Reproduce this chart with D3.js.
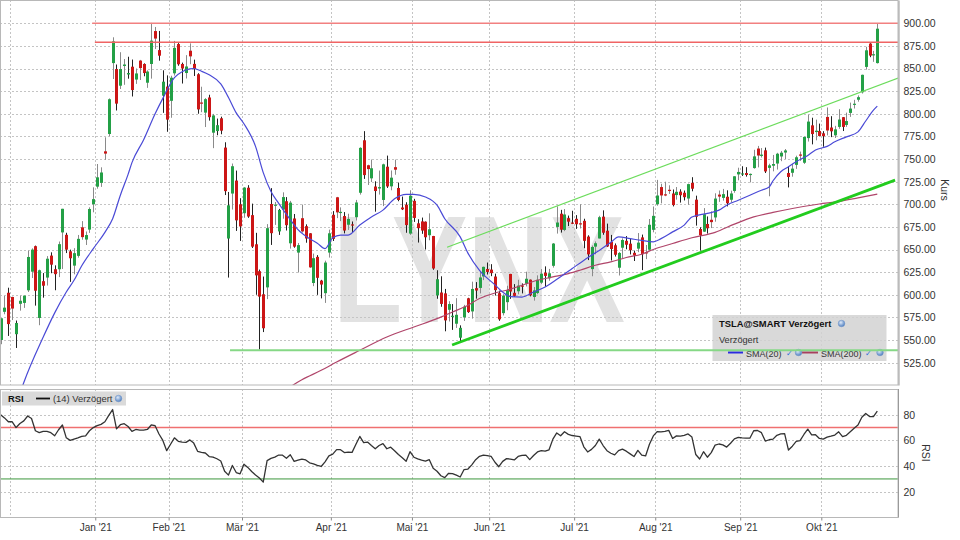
<!DOCTYPE html>
<html><head><meta charset="utf-8">
<script src="https://cdn.jsdelivr.net/npm/d3@7"></script>
<style>
html,body{margin:0;padding:0;background:#fff;}
svg{display:block;font-family:"Liberation Sans",Arial,sans-serif;}
</style></head><body>
<svg id="chart" width="960" height="540"></svg>
<script>
// ---------- DATA ----------
const holidays = ["2020-11-26","2020-12-25","2021-01-01","2021-01-18","2021-02-15","2021-04-02","2021-05-31","2021-07-05","2021-09-06"];
const monthNames = ["Jan","Feb","Mär","Apr","Mai","Jun","Jul","Aug","Sep","Okt","Nov","Dez"];

const open = [
 550.06,581.16,602.21,597.59,556.44,590.02,591.01,604.92,625.51,653.69,574.37,615.01,619.00,643.28,628.23,628.19,668.90,666.24,648.00,632.20,642.99,674.51,661.00,672.00,699.99,
 719.46,723.66,758.49,777.63,856.00,849.40,831.00,852.76,843.39,852.00,837.80,858.74,855.00,834.31,855.00,891.38,870.35,820.00,830.00,
 814.29,844.68,877.02,855.00,845.00,869.67,855.12,843.64,812.44,801.26,818.00,779.09,780.90,795.00,762.64,662.13,711.85,726.15,700.00,
 690.11,718.28,687.99,655.80,626.06,600.55,608.18,700.30,699.40,670.00,694.09,703.35,656.87,684.29,646.60,684.59,675.77,667.91,613.00,641.87,615.64,601.75,646.62,
 688.37,707.71,690.30,687.00,677.38,677.77,685.70,712.70,770.70,743.10,728.65,719.60,717.42,704.77,741.50,719.80,741.00,717.96,696.41,699.51,667.59,
 703.80,678.94,681.06,680.76,665.80,664.90,599.24,602.49,601.54,583.41,575.55,568.00,552.55,575.00,596.11,581.60,607.31,607.56,620.24,628.50,
 627.80,620.13,601.80,579.71,591.83,623.01,602.17,603.88,610.23,612.23,616.69,597.54,601.89,613.37,624.48,618.25,632.00,674.99,689.58,671.64,684.65,679.77,
 683.92,678.98,681.71,664.27,628.37,653.18,662.20,686.32,670.75,658.39,654.68,629.89,651.99,659.61,656.44,646.36,650.97,663.40,647.00,649.79,671.76,
 700.00,719.00,711.00,716.00,711.90,710.17,713.99,712.71,706.34,723.71,705.07,672.66,669.75,678.21,682.85,685.44,710.68,707.03,708.31,705.00,714.72,733.00,
 734.08,734.50,732.25,740.00,761.58,753.41,759.60,740.21,742.57,745.00,752.83,757.15,734.56,734.79,743.53,755.00,745.89,773.12,787.20,779.80,781.00,
 778.40,796.50,784.80,776.20,785.46,796.21,787.65,800.93,810.47,815.49,823.74,851.77,877.53,865.35,856.00];
const high = [
 574.00,598.78,607.80,597.85,571.54,598.97,599.04,648.79,651.28,654.32,627.75,624.00,642.75,646.90,632.50,658.82,695.00,668.50,649.88,651.50,666.09,681.40,669.90,696.60,718.72,
 744.49,740.84,774.00,816.99,884.49,854.43,868.00,860.47,863.00,859.90,850.00,859.50,855.72,848.00,900.40,895.90,891.50,848.00,842.41,
 842.00,880.50,878.08,856.50,864.77,877.77,859.80,844.82,829.88,817.33,821.00,799.84,794.69,796.79,768.50,713.61,745.00,737.21,706.70,
 719.00,721.11,700.70,668.45,627.84,620.13,678.09,717.85,702.50,694.88,713.18,707.92,703.73,689.23,657.23,699.62,677.80,668.02,645.50,643.82,616.48,637.66,672.00,
 692.42,708.16,696.55,691.38,689.55,680.97,704.80,763.00,780.79,743.69,749.41,725.40,737.25,744.84,753.77,737.36,749.30,724.00,708.50,702.25,715.47,
 706.00,683.45,685.30,681.02,690.00,665.05,627.10,620.41,606.46,592.87,589.73,596.25,566.21,588.85,596.68,614.48,613.99,626.17,631.13,635.59,
 633.80,623.36,604.55,600.61,610.00,623.09,611.79,616.59,612.56,625.49,616.79,608.50,621.47,628.35,631.39,628.57,657.20,697.62,693.81,694.70,687.51,692.81,
 687.99,700.00,684.00,665.70,654.43,658.91,687.24,693.28,678.61,666.14,656.70,647.20,662.39,664.86,662.17,648.80,668.20,666.50,654.97,683.69,697.53,
 726.94,722.65,724.90,720.95,716.33,719.03,716.59,715.18,722.80,729.90,709.50,674.58,695.77,686.55,692.13,712.13,715.22,716.97,715.40,715.00,731.00,740.39,
 741.99,740.97,734.00,760.20,764.45,762.10,762.61,744.78,754.47,756.86,758.91,761.04,742.00,744.74,753.67,758.20,774.80,799.00,795.64,793.50,789.13,
 780.78,806.97,797.31,786.66,805.00,796.38,801.24,812.32,815.41,820.25,843.21,873.95,877.95,869.49,900.00];
const low = [
 545.37,578.45,554.51,572.05,541.21,582.43,585.50,603.05,618.50,588.00,566.34,596.80,610.20,623.80,605.00,619.50,628.54,646.07,614.23,622.57,641.00,660.80,655.00,668.36,691.12,
 717.19,719.20,749.10,775.20,838.39,803.62,827.34,832.00,838.75,819.10,833.00,837.28,841.42,828.62,838.82,871.60,858.66,801.00,780.10,
 795.56,842.20,853.06,833.42,838.97,854.75,841.75,800.02,801.73,785.33,792.44,762.01,776.27,777.37,710.20,619.00,694.17,670.58,659.51,
 685.05,685.00,651.71,600.00,539.49,558.79,595.21,655.06,677.18,666.14,684.04,671.00,651.01,652.00,624.62,668.75,657.51,630.11,609.50,599.89,596.02,591.01,641.11,
 659.42,684.70,681.37,667.84,671.65,669.43,682.09,710.66,728.03,721.31,724.60,691.80,710.69,698.00,718.04,715.46,732.61,703.35,693.60,668.50,666.14,
 680.50,657.70,667.34,650.00,660.22,627.61,595.60,586.77,559.65,570.46,561.20,563.38,546.98,571.07,580.00,573.65,595.71,601.50,616.21,622.38,
 620.55,599.14,571.22,577.20,582.88,595.50,597.63,600.50,601.52,609.18,598.23,593.50,600.61,611.80,608.88,615.50,630.04,667.61,668.70,670.32,675.89,678.14,
 672.80,673.26,651.40,638.32,620.46,644.69,662.16,666.30,652.84,637.88,642.20,621.29,640.50,650.29,644.60,637.30,647.11,627.24,639.40,648.80,669.00,
 698.40,701.01,708.93,711.41,697.63,705.13,701.88,704.21,699.40,714.34,676.40,648.84,669.35,667.59,673.70,680.75,702.64,704.00,697.62,702.10,712.73,726.44,
 731.27,730.54,724.20,739.26,740.77,751.63,734.52,708.85,736.40,738.36,747.61,750.00,718.62,730.44,739.12,747.92,744.56,769.31,766.18,770.68,775.00,
 763.59,776.12,774.20,773.22,783.38,780.91,785.50,796.57,805.78,813.35,822.35,848.80,862.51,857.38,855.50];
const close = [
 574.00,585.76,567.60,584.76,568.82,593.38,599.04,641.76,649.88,604.48,627.07,609.99,639.83,633.25,622.77,655.90,695.00,649.86,640.34,645.98,661.77,663.69,665.99,694.78,705.67,
 729.77,735.11,755.98,816.04,880.02,811.19,849.44,854.41,845.00,826.16,844.55,850.45,844.99,846.64,880.80,883.09,864.16,835.43,793.53,
 839.81,872.79,854.69,849.99,852.23,863.42,849.46,804.82,811.66,816.12,796.22,798.15,787.38,781.30,714.50,698.84,742.02,682.22,675.50,
 718.43,686.44,653.20,621.44,597.95,563.00,673.58,668.06,699.60,693.73,707.94,676.88,701.81,653.16,654.87,670.00,662.16,630.27,640.39,618.71,611.29,635.62,667.93,
 661.75,691.05,691.62,670.97,683.80,677.02,701.98,762.32,732.23,738.85,739.78,714.63,718.99,744.12,719.69,729.40,738.20,704.74,694.40,677.00,709.44,
 684.90,673.60,670.94,663.54,672.37,629.04,617.20,589.89,571.69,589.74,576.83,577.87,563.46,586.78,580.88,606.44,604.69,619.13,630.85,625.22,
 623.90,605.12,572.84,599.05,605.13,603.59,598.78,610.12,609.89,617.69,599.36,604.87,616.60,623.31,620.83,623.71,656.57,679.82,671.87,688.72,680.76,679.70,
 677.92,678.90,659.58,644.65,652.81,656.95,685.70,668.54,653.38,650.60,644.22,646.22,660.50,655.29,649.26,643.38,657.62,644.78,646.98,677.35,687.20,
 709.67,709.74,710.92,714.63,699.10,713.76,709.99,707.82,722.25,717.17,686.17,665.71,688.99,673.47,680.26,706.30,708.49,711.20,701.16,711.92,730.91,735.72,
 734.09,732.39,733.57,752.92,753.87,754.86,736.27,743.00,744.49,755.83,756.99,759.49,730.17,739.38,751.94,753.64,774.39,791.36,777.56,781.31,775.48,
 775.22,781.53,780.59,782.75,793.61,785.49,791.94,805.72,811.08,818.32,843.03,870.11,864.27,865.80,894.00];

// RSI(14), one value per trading day
const rsi = [
 80,77.5,74.5,74.5,70,73.2,75.2,79,77,67.5,66,67,67,66,63.6,68.3,72,62,60,61,62,63.2,63.6,67.5,70,
 71.5,72.5,74.5,79.5,84,69,72.2,73,70.8,67,68.5,68,68,68.5,72,71.4,65,60,52,
 57,62,59.3,58.7,58.5,60.4,57.9,51.5,50.7,50.2,47.4,47,45.7,44,36,33,40.5,35,34,
 41.5,39,35.8,33,30.7,27.5,44.3,46,47,48.6,48.5,46.1,48.8,43.7,44.7,45.5,44.8,42.6,41.8,40.5,39.7,43.3,48,
 49.3,52.8,52.8,50.5,50.9,50.7,57,63.1,58.3,58.7,56,53.5,56,57.5,53.5,54.7,52,49,46.5,43.8,51.2,
 46.9,45.6,44.6,43.8,45,38.3,36,32.5,31,34.4,34.2,33,31.5,37.3,37.7,41,45,47.6,48.6,48.2,
 47.5,43,39.5,43.7,45.8,45.5,44.8,47.5,48.3,48.5,45,48.2,51,52.1,51.6,52.7,61,65.8,63.6,66.7,64.7,63.8,
 63.4,63,55,51,53,56,61,56,52,50,48.7,52,53.2,51.6,49.5,47.4,52.2,48.5,47.9,57,63.5,
 66.8,66.6,67,67.8,61.5,63.5,63.3,64,65,62.6,49,45.5,51.2,46.9,50.5,56.3,57.2,56.5,54.8,57.8,61.2,62.4,
 62,61.7,61.7,67.5,67.7,66,59.5,60.5,61,64,65,65.2,52.5,55.5,59.2,59.9,64.6,68.8,64.3,64.4,61.5,
 61,62.5,63.3,64.2,66.7,63,64,66.7,69.5,72,78,81,78.6,78.5,82.7];

// moving averages: [trading day, value]
const sma20 = [[4,478],[6,503],[11,553],[14,580],[17,603],[19,616],[21,632],[24,651],[27,669],[29,684],[31,710],[33,733],[34,746],[37,771],[40,800],[42,817],[45,840],[47,846.5],[49,849.5],[50,850],[52,847],[54,843],[57,833],[59,818],[61,801],[63,789],[66,764],[68,735],[70,714],[72,701],[75,683],[77,672],[80,662],[82,657],[84,651],[86,663],[88,666],[90,666],[93,677],[96,686],[99,693.5],[102,706],[105,711],[107,711],[110,708],[113,699],[115,684],[119,664],[121,646],[124,627],[128,611],[130,603],[132,598],[135,597.5],[138,603],[141,608.5],[145,620],[148,629],[152,641],[155,649],[158,658],[160,664],[163,662],[166,660],[169,658.5],[171,662],[174,669.5],[177,677],[179,686],[183,690],[186,693.5],[188,699],[191,704.5],[194,710],[197,715.5],[199,719],[200,726],[202,736],[204,741.5],[206,747],[209,754],[211,760],[214,764],[216,769],[219,774.5],[222,780],[224,792],[226,804],[227,808.5]];
const sma200 = [[72,490],[78,506],[83,516.5],[87,525.7],[93,538.6],[100,553.3],[107,564.4],[113,573.6],[117,581],[121,588.4],[124,595.8],[128,602],[131,605],[135,610.5],[139,616],[143,619.7],[147,623.4],[150,627.1],[154,632.6],[158,636.3],[162,641.2],[166,644.8],[169,650],[174,656.6],[179,663],[185,669],[190,678],[195,686],[200,691],[205,695.3],[212,700.3],[217,703],[222,707],[227,711.2]];

// drawn trend / support / resistance lines: [trading day, price]
const resistanceHigh = [[23.7,900],[232.4,900]];
const resistanceLow  = [[24.4,879],[232.4,879]];
const supportLine    = [[59.4,538.6],[232.4,538.6]];
const channelUpper   = [[115.6,652.5],[232.4,839.5]];
const channelLower   = [[116.9,544.5],[231.6,726.7]];

const priceTicks = [525,550,575,600,625,650,675,700,725,750,775,800,825,850,875,900];
const rsiTicks = [20,40,60,80];

// ---------- LAYOUT ----------
const W = 960, H = 540;
const plotRight = 898;
const mainTop = 0, mainBottom = 385;
const rsiTop = 389, rsiBottom = 517.5;

// trading calendar
const dates = [];
for (let t = Date.UTC(2020,10,25); t <= Date.UTC(2021,9,21); t += 864e5) {
  const d = new Date(t), wd = d.getUTCDay(), s = d.toISOString().slice(0,10);
  if (wd === 0 || wd === 6 || holidays.includes(s)) continue;
  dates.push(s);
}
const candles = dates.map((d,i)=>({d, i, o:open[i], h:high[i], l:low[i], c:close[i], pc: i>0?close[i-1]:open[i]}));

const monthTicks = [];
dates.forEach((s,i)=>{
  if (i>0 && s.slice(5,7)!==dates[i-1].slice(5,7))
    monthTicks.push({pos:i-0.5, label: monthNames[+s.slice(5,7)-1]+" '"+s.slice(2,4)});
});

const x = d3.scaleLinear().domain([-0.165, 232.36]).range([0, plotRight]);
const y = d3.scaleLinear().domain([500.3, 925.7]).range([mainBottom, mainTop]);
const yr = d3.scaleLinear().domain([0,100]).range([rsiBottom, rsiTop]);
const labeledTicks = monthTicks.filter(d=>x(d.pos) > 20);

const svg = d3.select("#chart");
svg.append("rect").attr("width",W).attr("height",H).attr("fill","#fff");

const defs = svg.append("defs");
defs.append("clipPath").attr("id","clipMain").append("rect")
  .attr("x",0).attr("y",mainTop).attr("width",plotRight).attr("height",mainBottom-mainTop);
defs.append("clipPath").attr("id","clipRsi").append("rect")
  .attr("x",0).attr("y",rsiTop).attr("width",plotRight).attr("height",rsiBottom-rsiTop);
const grad = defs.append("radialGradient").attr("id","globe").attr("cx","40%").attr("cy","35%").attr("r","65%");
grad.append("stop").attr("offset","0%").attr("stop-color","#dfeaf8");
grad.append("stop").attr("offset","100%").attr("stop-color","#4f7fc0");

const main = svg.append("g").attr("clip-path","url(#clipMain)");
const rsiG = svg.append("g").attr("clip-path","url(#clipRsi)");

// watermark
main.append("text").text("LYNX")
  .attr("x",333).attr("y",322)
  .attr("font-size",152).attr("font-weight","bold")
  .attr("textLength",292).attr("lengthAdjust","spacingAndGlyphs")
  .attr("fill","#e2e2e2");

// grid
const gridCol = "#c4c4c4";
main.selectAll("line.hg").data(priceTicks).join("line")
  .attr("x1",0).attr("x2",plotRight)
  .attr("y1",d=>Math.round(y(d))+0.5).attr("y2",d=>Math.round(y(d))+0.5)
  .attr("stroke",gridCol).attr("stroke-dasharray","2,2");
main.selectAll("line.vg").data(monthTicks).join("line")
  .attr("x1",d=>Math.round(x(d.pos))+0.5).attr("x2",d=>Math.round(x(d.pos))+0.5)
  .attr("y1",mainTop).attr("y2",mainBottom)
  .attr("stroke",gridCol).attr("stroke-dasharray","2,2");
rsiG.selectAll("line.hg").data(rsiTicks).join("line")
  .attr("x1",0).attr("x2",plotRight)
  .attr("y1",d=>Math.round(yr(d))+0.5).attr("y2",d=>Math.round(yr(d))+0.5)
  .attr("stroke",gridCol).attr("stroke-dasharray","2,2");
rsiG.selectAll("line.vg").data(monthTicks).join("line")
  .attr("x1",d=>Math.round(x(d.pos))+0.5).attr("x2",d=>Math.round(x(d.pos))+0.5)
  .attr("y1",rsiTop).attr("y2",rsiBottom)
  .attr("stroke",gridCol).attr("stroke-dasharray","2,2");

// candles
const cg = main.append("g");
cg.selectAll("line.w").data(candles).join("line")
  .attr("x1",d=>Math.round(x(d.i))+0.5).attr("x2",d=>Math.round(x(d.i))+0.5)
  .attr("y1",d=>y(d.h)).attr("y2",d=>y(d.l))
  .attr("stroke",d=>d.c>=d.pc?"#8a8a8a":"#222").attr("stroke-width",1);
cg.selectAll("rect.b").data(candles).join("rect")
  .attr("x",d=>Math.round(x(d.i))-1).attr("width",3)
  .attr("y",d=>y(Math.max(d.o,d.c)))
  .attr("height",d=>Math.max(1.2, Math.abs(y(d.o)-y(d.c))))
  .attr("fill",d=>d.c>=d.o?"#23a046":"#cc1616");

// moving averages
const lineXY = d3.line().x(d=>x(d[0])).y(d=>y(d[1])).curve(d3.curveMonotoneX);
main.append("path").attr("d",lineXY(sma200)).attr("fill","none").attr("stroke","#b0456a").attr("stroke-width",1.2);
main.append("path").attr("d",lineXY(sma20)).attr("fill","none").attr("stroke","#4a4ad6").attr("stroke-width",1.2);

// trend lines
const straight = d3.line().x(d=>x(d[0])).y(d=>y(d[1]));
main.append("path").attr("d",straight(channelUpper)).attr("stroke","#6cdc5c").attr("stroke-width",1.3).attr("fill","none");
main.append("path").attr("d",straight(channelLower)).attr("stroke","#22cc1e").attr("stroke-width",2.8).attr("fill","none");

// legend box (main)
const lg = svg.append("g");
lg.append("rect").attr("x",712.5).attr("y",315).attr("width",174).attr("height",46)
  .attr("fill","#d2d2d2").attr("opacity",0.85);
lg.append("text").attr("x",719).attr("y",327).attr("font-size",9.4).attr("font-weight","bold").attr("fill","#111").text("TSLA@SMART Verzögert");
lg.append("text").attr("x",719).attr("y",343).attr("font-size",9.2).attr("fill","#333").text("Verzögert");
lg.append("line").attr("x1",728).attr("x2",743).attr("y1",352.5).attr("y2",352.5).attr("stroke","#2b2be0").attr("stroke-width",2);
lg.append("text").attr("x",746).attr("y",356.5).attr("font-size",9).attr("fill","#333").text("SMA(20)");
lg.append("line").attr("x1",802).attr("x2",818).attr("y1",352.5).attr("y2",352.5).attr("stroke","#a8405e").attr("stroke-width",2);
lg.append("text").attr("x",821).attr("y",356.5).attr("font-size",9).attr("fill","#333").text("SMA(200)");
[[789,356],[868,356]].forEach(p=>lg.append("text").attr("x",p[0]).attr("y",p[1]).attr("font-size",7.5).attr("text-anchor","middle").attr("fill","#2f6fd8").text("✓"));
[[841.5,323.5],[798.5,352.5],[880,352.5]].forEach(p=>lg.append("circle").attr("cx",p[0]).attr("cy",p[1]).attr("r",3.3).attr("fill","url(#globe)").attr("stroke","#6f93c8").attr("stroke-width",0.5));

// horizontal support / resistance (drawn over legend)
const hl = svg.append("g").attr("clip-path","url(#clipMain)");
hl.append("path").attr("d",straight(supportLine)).attr("stroke","#86d886").attr("stroke-width",2).attr("fill","none");
hl.append("path").attr("d",straight(resistanceHigh)).attr("stroke","#f28080").attr("stroke-width",1.6).attr("fill","none");
hl.append("path").attr("d",straight(resistanceLow)).attr("stroke","#f06464").attr("stroke-width",1.6).attr("fill","none");

// RSI panel
rsiG.append("line").attr("x1",0).attr("x2",plotRight).attr("y1",yr(70)).attr("y2",yr(70)).attr("stroke","#f07070").attr("stroke-width",1.5);
rsiG.append("line").attr("x1",0).attr("x2",plotRight).attr("y1",yr(30)).attr("y2",yr(30)).attr("stroke","#3c963c").attr("stroke-width",1);
rsiG.append("path").attr("d",d3.line().x((d,i)=>x(i)).y(d=>yr(d))(rsi))
  .attr("fill","none").attr("stroke","#333").attr("stroke-width",1.3).attr("stroke-linejoin","round");

// RSI legend
const rl = svg.append("g");
rl.append("rect").attr("x",2).attr("y",391.5).attr("width",124).attr("height",14).attr("fill","#dadada");
rl.append("text").attr("x",8).attr("y",402).attr("font-size",9.4).attr("font-weight","bold").attr("fill","#111").text("RSI");
rl.append("line").attr("x1",36).attr("x2",50).attr("y1",398.5).attr("y2",398.5).attr("stroke","#111").attr("stroke-width",1.8);
rl.append("text").attr("x",53).attr("y",402).attr("font-size",9.4).attr("fill","#333").text("(14) Verzögert");
rl.append("circle").attr("cx",118.5).attr("cy",398.5).attr("r",3.3).attr("fill","url(#globe)").attr("stroke","#6f93c8").attr("stroke-width",0.5);

// panel frames
const frame = "#b8b8b8";
svg.append("rect").attr("x",0.5).attr("y",0.5).attr("width",plotRight-0.5).attr("height",mainBottom-0.5).attr("fill","none").attr("stroke",frame);
svg.append("rect").attr("x",0.5).attr("y",rsiTop+0.5).attr("width",plotRight-0.5).attr("height",rsiBottom-rsiTop-0.5).attr("fill","none").attr("stroke",frame);

// axes
function styleAxis(g){
  g.selectAll("text").attr("fill","#333").attr("font-family","'Liberation Sans',Arial,sans-serif");
  g.select(".domain").attr("stroke","#9a9a9a");
}
svg.append("g").attr("transform",`translate(${plotRight+0.5},0)`)
  .call(d3.axisRight(y).tickValues(priceTicks).tickFormat(d3.format(".2f")).tickSize(0).tickPadding(5).tickSizeOuter(0))
  .call(g=>{styleAxis(g); g.selectAll("text").attr("font-size",10.5);});
svg.append("g").attr("transform",`translate(${plotRight+0.5},0)`)
  .call(d3.axisRight(yr).tickValues(rsiTicks).tickFormat(d3.format("d")).tickSize(0).tickPadding(5).tickSizeOuter(0))
  .call(g=>{styleAxis(g); g.selectAll("text").attr("font-size",10.5);
    g.select(".domain").attr("d",`M0,${rsiTop}V${rsiBottom}`);});
svg.append("g").attr("transform",`translate(0,${rsiBottom})`)
  .call(d3.axisBottom(x).tickValues(labeledTicks.map(d=>d.pos))
    .tickFormat((d,i)=> labeledTicks[i].label).tickSize(3).tickPadding(3).tickSizeOuter(0))
  .call(g=>{styleAxis(g); g.select(".domain").remove(); g.selectAll("line").attr("stroke","#888");
    g.selectAll("text").attr("font-size",10);});

// axis titles
svg.append("text").attr("transform","translate(941,190) rotate(90)").attr("text-anchor","middle")
  .attr("font-size",10.5).attr("fill","#333").text("Kurs");
svg.append("text").attr("transform","translate(922,453) rotate(90)").attr("text-anchor","middle")
  .attr("font-size",10.5).attr("fill","#333").text("RSI");
</script>
</body></html>
